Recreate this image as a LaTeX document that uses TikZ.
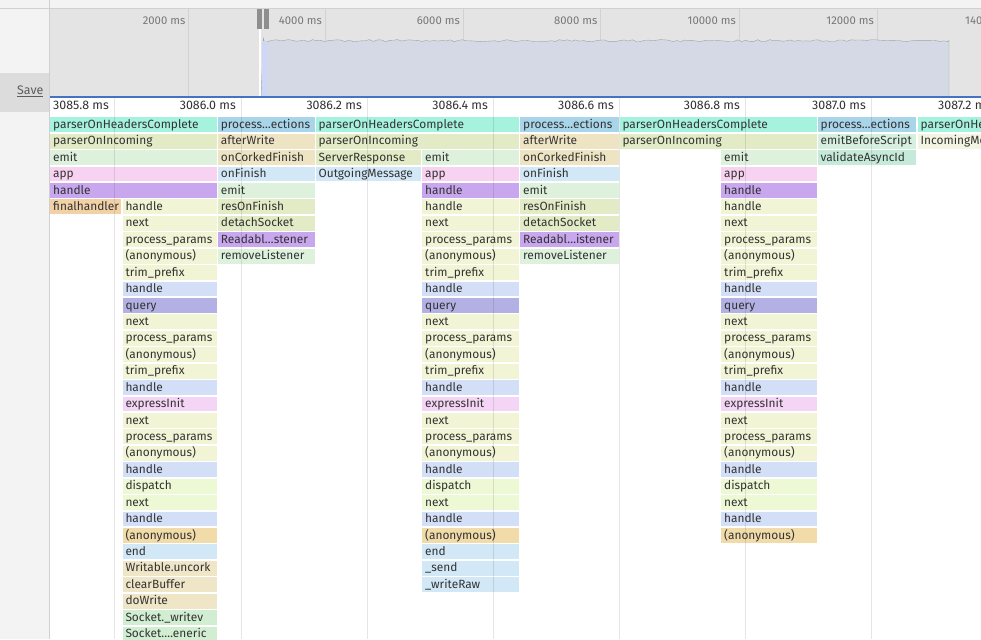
\documentclass[tikz,border=0pt]{standalone}
\usepackage{fontspec}
\setmainfont{Fira Sans}
\usetikzlibrary{calc, backgrounds}

\definecolor{panel}{HTML}{F3F3F3}
\definecolor{savebg}{HTML}{DCDCDC}
\definecolor{edge}{HTML}{D0D0D0}
\definecolor{ovbg}{HTML}{E4E4E4}
\definecolor{ovgrid}{HTML}{D2D2D2}
\definecolor{ovtext}{HTML}{777777}
\definecolor{ovchart}{HTML}{D5D9E6}
\definecolor{ovline}{HTML}{A3A3A3}
\definecolor{selfill}{HTML}{CCD8F6}
\definecolor{handlebar}{HTML}{8E8E8E}
\definecolor{selblue}{HTML}{4472C4}
\definecolor{fntext}{HTML}{333333}
\definecolor{mint}{HTML}{A5F2DF}
\definecolor{sky}{HTML}{A8D5EA}
\definecolor{olive}{HTML}{E2EBC5}
\definecolor{tan}{HTML}{EEE4C4}
\definecolor{lgreen}{HTML}{DDF1DD}
\definecolor{pink}{HTML}{F8D3F1}
\definecolor{lblue}{HTML}{D2E8F7}
\definecolor{purple}{HTML}{C9A7EF}
\definecolor{peach}{HTML}{F2D1A7}
\definecolor{cream}{HTML}{F1F5D5}
\definecolor{peri}{HTML}{D3DEF7}
\definecolor{qpurple}{HTML}{B3B0E3}
\definecolor{epink}{HTML}{F5D5F5}
\definecolor{lime}{HTML}{EDF8D5}
\definecolor{sand}{HTML}{F0DBA9}
\definecolor{tantwo}{HTML}{EFE5C7}
\definecolor{sgreen}{HTML}{D2EED2}
\definecolor{ebs}{HTML}{D6F0E0}
\definecolor{teal}{HTML}{C6EADA}
\definecolor{ivory}{HTML}{F3F4E2}

\begin{document}
\begin{tikzpicture}[x=1pt, y=-1pt,
    call/.style={anchor=west, inner xsep=3pt, inner ysep=0pt, minimum height=14.8pt,
      text height=9.4pt, text depth=2.2pt,
      align=flush left, text=fntext, font=\fontsize{11.9}{13}\selectfont},
    tick/.style={anchor=east, inner sep=0pt, text=ovtext, font=\fontsize{11.3}{12}\selectfont},
    ruler/.style={anchor=east, inner sep=0pt, text=fntext, font=\fontsize{12.4}{13}\selectfont},
    grid/.style={draw=black, opacity=0.1, line width=1pt}
  ]
  \useasboundingbox (0,0) rectangle (981,639);
  \fill[white] (0,0) rectangle (981,639);

  % left panel and top strip
  \fill[panel] (0,0) rectangle (981,8.5);
  \fill[panel] (0,0) rectangle (49.5,639);
  \fill[savebg] (0,73) rectangle (49.5,112);
  \node[anchor=east, inner sep=0pt, text=fntext!80, font=\fontsize{12.4}{13}\selectfont] (save) at (43.5,91.5) {\underline{Save}};
  \draw[edge] (0,8.5) -- (981,8.5);
  \draw[edge] (49.5,0) -- (49.5,639);

  % overview
  \fill[ovbg] (50,9) rectangle (981,97);
  \foreach \x/\t in {188.5/2000, 325/4000, 463/6000, 600.5/8000, 739/10000, 877/12000}{
    \draw[ovgrid] (\x,9) -- (\x,97);
    \node[tick] (t\t) at (\x-3,20.5) {\t\ ms};
  }
  \node[tick, anchor=west] (t14000) at (965,20.5) {140};
  \pgfmathsetseed{3}
  \filldraw[fill=ovchart, draw=ovline] (261,97) -- (263.5,37.5)
    -- plot[domain=264:948, samples=170] (\x, {40.7+1.1*rand}) -- (949,40.5) -- (949,97) -- cycle;
  \fill[selfill] (261.5,41) rectangle (267,97);
  \draw[white, line width=1.5pt] (260,29) -- (260,97);
  \fill[handlebar] (256.5,9) rectangle (261.5,29);
  \fill[handlebar] (264,9) rectangle (269,29);
  \draw[selblue, line width=1.2pt] (50,97) -- (981,97);

  % ruler labels
  \node[ruler, anchor=west] (r0) at (53,105.5) {3085.8 ms};
  \foreach \x/\t [count=\i] in {241/3086.0, 367/3086.2, 493/3086.4, 619/3086.6, 745/3086.8, 871/3087.0}
    \node[ruler] (r\i) at (\x-5,105.5) {\t\ ms};
  \node[ruler, anchor=west] (r7) at (938,105.5) {3087.2 m};

  % top of the stacks
  \foreach \n/\xa/\xb/\r/\c/\t in {
      a-0/50/216.7/0/mint/parserOnHeadersComplete, b-0/217.7/314.5/0/sky/process…ections,
      c-0/315.5/518.5/0/mint/parserOnHeadersComplete, d-0/520/618.3/0/sky/process…ections,
      e-0/619.3/816.5/0/mint/parserOnHeadersComplete, f-0/817.5/916/0/sky/process…ections,
      g-0/917.5/990/0/mint/parserOnHe,
      a-1/50/216.7/1/olive/parserOnIncoming, b-1/217.7/314.5/1/tan/afterWrite,
      c-1/315.5/518.5/1/olive/parserOnIncoming, d-1/520/618.3/1/tan/afterWrite,
      e-1/619.3/816.5/1/olive/parserOnIncoming, f-1/817.5/916/1/ebs/emitBeforeScript,
      g-1/917.5/990/1/ivory/IncomingMe,
      a-2/50/216.7/2/lgreen/emit, b-2/217.7/314.5/2/tan/onCorkedFinish,
      c1-2/315.5/421/2/olive/ServerResponse, c2-2/422/518.5/2/lgreen/emit,
      d-2/520/618.3/2/tan/onCorkedFinish, e2-2/721/816.5/2/lgreen/emit,
      f-2/817.5/916/2/teal/validateAsyncId,
      a-3/50/216.7/3/pink/app, b-3/217.7/314.5/3/lblue/onFinish,
      c1-3/315.5/421/3/lblue/OutgoingMessage, c2-3/422/518.5/3/pink/app,
      d-3/520/618.3/3/lblue/onFinish, e2-3/721/816.5/3/pink/app,
      a-4/50/216.7/4/purple/handle, b-4/217.7/314.5/4/lgreen/emit,
      c2-4/422/518.5/4/purple/handle, d-4/520/618.3/4/lgreen/emit,
      e2-4/721/816.5/4/purple/handle,
      a1-5/50/121/5/peach/finalhandler,
      b-5/217.7/314.5/5/olive/resOnFinish, d-5/520/618.3/5/olive/resOnFinish,
      b-6/217.7/314.5/6/olive/detachSocket, d-6/520/618.3/6/olive/detachSocket,
      b-7/217.7/314.5/7/purple/Readabl…stener, d-7/520/618.3/7/purple/Readabl…istener,
      b-8/217.7/314.5/8/lgreen/removeListener, d-8/520/618.3/8/lgreen/removeListener,
      a2-26/122.3/216.7/26/lblue/end, a2-27/122.3/216.7/27/tantwo/Writable.uncork,
      a2-28/122.3/216.7/28/tantwo/clearBuffer, a2-29/122.3/216.7/29/tantwo/doWrite,
      a2-30/122.3/216.7/30/sgreen/Socket.\_writev, a2-31/122.3/216.7/31/sgreen/Socket.…eneric,
      c2-26/422/518.5/26/lblue/end, c2-27/422/518.5/27/lblue/\_send,
      c2-28/422/518.5/28/lblue/\_writeRaw}{
    \pgfmathsetmacro\w{\xb-\xa-6}
    \node[call, fill=\c, text width=\w pt] (\n) at (\xa,{124.7+16.43*\r}) {\t};
  }

  % the three express stacks
  \foreach \s/\xa/\xb in {a2/122.3/216.7, c2/422/518.5, e2/721/816.5}
    \foreach \r/\c/\t in {5/cream/handle, 6/cream/next, 7/cream/process\_params,
        8/cream/{(anonymous)}, 9/cream/trim\_prefix, 10/peri/handle, 11/qpurple/query,
        12/cream/next, 13/cream/process\_params, 14/cream/{(anonymous)}, 15/cream/trim\_prefix,
        16/peri/handle, 17/epink/expressInit, 18/cream/next, 19/cream/process\_params,
        20/cream/{(anonymous)}, 21/peri/handle, 22/lime/dispatch, 23/lime/next,
        24/peri/handle, 25/sand/{(anonymous)}}{
      \pgfmathsetmacro\w{\xb-\xa-6}
      \node[call, fill=\c, text width=\w pt] (\s-\r) at (\xa,{124.7+16.43*\r}) {\t};
    }

  % time grid over everything
  \foreach \x in {114,241,367,493,619,745,871}
    \draw[grid] (\x,97.6) -- (\x,639);
\end{tikzpicture}
\end{document}
